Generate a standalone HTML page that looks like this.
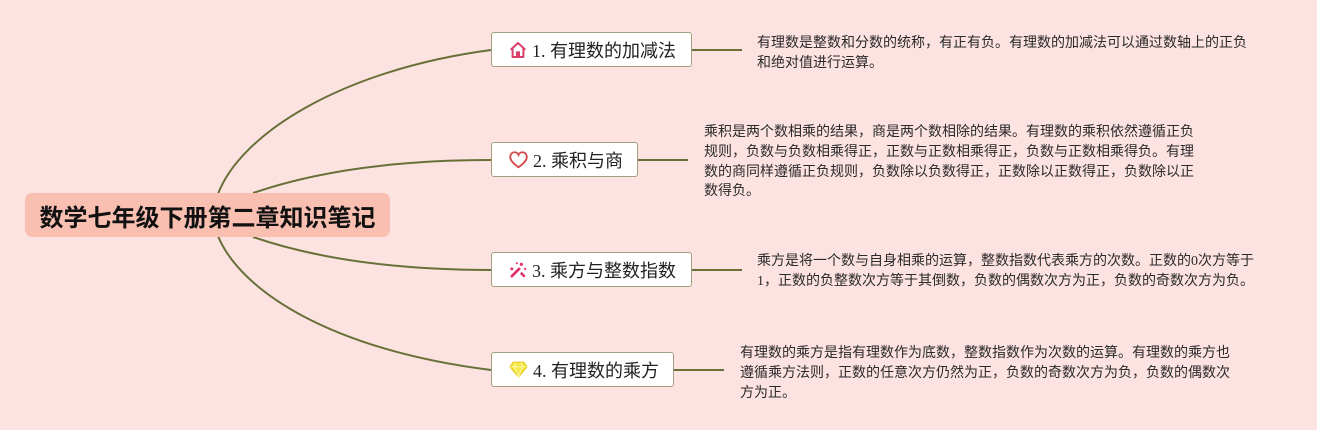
<!DOCTYPE html>
<html>
<head>
<meta charset="utf-8">
<style>
  html,body{margin:0;padding:0;}
  body{width:1317px;height:430px;background:#fde2e2;position:relative;overflow:hidden;
    font-family:"Liberation Serif","Noto Sans CJK SC",serif;}
  svg.lines{position:absolute;left:0;top:0;}
  .root{position:absolute;left:25px;top:193px;width:365px;height:44px;background:#f9bfb1;border-radius:7px;
    display:flex;align-items:center;justify-content:center;
    font-family:"Liberation Sans","Noto Sans CJK SC",sans-serif;font-weight:bold;font-size:24px;color:#111;letter-spacing:0px;}
  .node{position:absolute;left:491px;height:33px;background:#fff;border:1.5px solid #a39f80;border-radius:3px;
    display:flex;align-items:center;box-sizing:content-box;font-size:18px;color:#222;white-space:nowrap;}
  .node svg{margin-left:17px;margin-right:5px;flex:none;}
  .desc{position:absolute;font-size:14px;line-height:19.8px;color:#2a2a2a;white-space:nowrap;
    font-family:"Liberation Serif","Noto Sans CJK SC",serif;}
</style>
</head>
<body>
<svg class="lines" width="1317" height="430">
  <g fill="none" stroke="#687038" stroke-width="2">
    <path d="M218,194 C240,135 340,70 491,50"/>
    <path d="M253,193 C320,170 400,160 491,160"/>
    <path d="M253,237 C320,260 400,270 491,270"/>
    <path d="M218,236 C240,290 330,350 491,370"/>
    <line x1="692" y1="50" x2="742" y2="50"/>
    <line x1="638" y1="160" x2="688" y2="160"/>
    <line x1="692" y1="270" x2="742" y2="270"/>
    <line x1="674" y1="370" x2="724" y2="370"/>
  </g>
</svg>

<div class="root">数学七年级下册第二章知识笔记</div>

<div class="node" style="top:32px;width:199px;">
  <svg width="18" height="18" viewBox="0 0 16 16"><path d="M1.5,7.8 L8,1.8 L14.5,7.8 M3.2,6.5 V14.2 H12.8 V6.5" fill="none" stroke="#d9406a" stroke-width="1.8" stroke-linejoin="round"/><rect x="6.2" y="9.2" width="3.6" height="5" fill="#d9406a"/></svg>
  <span>1. 有理数的加减法</span>
</div>
<div class="node" style="top:142px;width:145px;">
  <svg width="19" height="18" viewBox="0 0 17 16"><path d="M8.5,14.5 C3,10.5 0.8,7.8 1.1,4.8 C1.4,2.2 3.4,1 5.2,1.1 C6.8,1.2 8,2.3 8.5,3.5 C9,2.3 10.2,1.2 11.8,1.1 C13.6,1 15.6,2.2 15.9,4.8 C16.2,7.8 14,10.5 8.5,14.5 Z" fill="none" stroke="#d44a4a" stroke-width="1.6"/></svg>
  <span>2. 乘积与商</span>
</div>
<div class="node" style="top:252px;width:199px;">
  <svg width="18" height="18" viewBox="0 0 16 16"><line x1="2.5" y1="13.5" x2="9" y2="7" stroke="#e0306a" stroke-width="2.4" stroke-linecap="round"/><line x1="10.5" y1="10.5" x2="14" y2="14" stroke="#e0306a" stroke-width="2.2"/><circle cx="2.5" cy="7" r="1.3" fill="#e0306a"/><circle cx="11" cy="3" r="1.4" fill="#e0306a"/><circle cx="14.3" cy="7" r="1" fill="#e0306a"/><circle cx="7" cy="2" r="0.9" fill="#e0306a"/></svg>
  <span>3. 乘方与整数指数</span>
</div>
<div class="node" style="top:352px;width:181px;">
  <svg width="19" height="17" viewBox="0 0 17 15"><path d="M4,1 H13 L16,5 L8.5,14 L1,5 Z" fill="#f6e84a" stroke="#e8cc10" stroke-width="1.2" stroke-linejoin="round"/><path d="M1,5 H16 M6,1 L5,5 L8.5,14 L12,5 L11,1" fill="none" stroke="#fff7a8" stroke-width="0.9"/></svg>
  <span>4. 有理数的乘方</span>
</div>

<div class="desc" style="left:757px;top:34px;">有理数是整数和分数的统称，有正有负。有理数的加减法可以通过数轴上的正负<br>和绝对值进行运算。</div>
<div class="desc" style="left:704px;top:123px;">乘积是两个数相乘的结果，商是两个数相除的结果。有理数的乘积依然遵循正负<br>规则，负数与负数相乘得正，正数与正数相乘得正，负数与正数相乘得负。有理<br>数的商同样遵循正负规则，负数除以负数得正，正数除以正数得正，负数除以正<br>数得负。</div>
<div class="desc" style="left:757px;top:252px;">乘方是将一个数与自身相乘的运算，整数指数代表乘方的次数。正数的0次方等于<br>1，正数的负整数次方等于其倒数，负数的偶数次方为正，负数的奇数次方为负。</div>
<div class="desc" style="left:740px;top:344px;">有理数的乘方是指有理数作为底数，整数指数作为次数的运算。有理数的乘方也<br>遵循乘方法则，正数的任意次方仍然为正，负数的奇数次方为负，负数的偶数次<br>方为正。</div>
</body>
</html>
